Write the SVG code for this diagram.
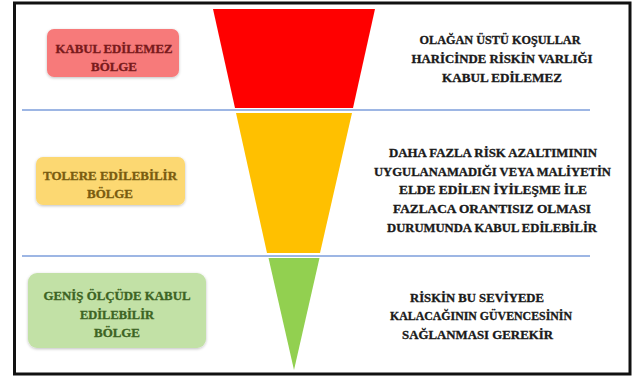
<svg xmlns="http://www.w3.org/2000/svg" width="633" height="376" viewBox="0 0 633 376">
<defs>
<style>
text{font-family:'Liberation Serif','Times New Roman',serif;font-weight:700;font-size:13.5px;text-anchor:middle;stroke-width:0.35px}
.r{fill:#7a1a1c;stroke:#7a1a1c}.y{fill:#7a5c10;stroke:#7a5c10}.g{fill:#3d6424;stroke:#3d6424}.k{fill:#1a1a1a;stroke:#1a1a1a}
.sep{stroke:#9db6e4;stroke-width:2}
</style>
<filter id="sh" x="-10%" y="-20%" width="120%" height="140%"><feGaussianBlur in="SourceAlpha" stdDeviation="1.5"/><feOffset dy="1"/><feComponentTransfer><feFuncA type="linear" slope="0.25"/></feComponentTransfer><feMerge><feMergeNode/><feMergeNode in="SourceGraphic"/></feMerge></filter>
</defs>
<rect x="0" y="0" width="633" height="376" fill="#fff"/>
<rect x="14.5" y="3" width="615.5" height="371" fill="none" stroke="#111" stroke-width="3"/>
<g id="connectors">
<line class="sep" x1="22" y1="110" x2="590" y2="110"/>
<line class="sep" x1="22" y1="256" x2="590" y2="256"/>
</g>
<g id="funnel">
<polygon points="213,9 375,9 353,108 235,108" fill="#ff0000"/>
<polygon points="236,113 352,113 320,253 267,253" fill="#ffc000"/>
<polygon points="268.5,258 319.5,258 294,370" fill="#92d050"/>
</g>
<g id="zone-red">
<rect x="47" y="29" width="132" height="48" rx="7" fill="#f77a7a" filter="url(#sh)"/>
<text class="r" x="114" y="53" textLength="117" lengthAdjust="spacingAndGlyphs">KABUL EDİLEMEZ</text>
<text class="r" x="114" y="71" textLength="46" lengthAdjust="spacingAndGlyphs">BÖLGE</text>
</g>
<g id="zone-yellow">
<rect x="36" y="157" width="149" height="48" rx="7" fill="#fcd872" filter="url(#sh)"/>
<text class="y" x="110" y="180" textLength="134" lengthAdjust="spacingAndGlyphs">TOLERE EDİLEBİLİR</text>
<text class="y" x="110" y="198" textLength="46" lengthAdjust="spacingAndGlyphs">BÖLGE</text>
</g>
<g id="zone-green">
<rect x="28" y="273" width="178" height="75" rx="9" fill="#c2e1a6" filter="url(#sh)"/>
<text class="g" x="117" y="300" textLength="147" lengthAdjust="spacingAndGlyphs">GENİŞ ÖLÇÜDE KABUL</text>
<text class="g" x="117" y="319" textLength="74" lengthAdjust="spacingAndGlyphs">EDİLEBİLİR</text>
<text class="g" x="117" y="337" textLength="46" lengthAdjust="spacingAndGlyphs">BÖLGE</text>
</g>
<g id="desc-red">
<text class="k" x="500" y="44" textLength="161" lengthAdjust="spacingAndGlyphs">OLAĞAN ÜSTÜ KOŞULLAR</text>
<text class="k" x="502" y="63" textLength="181" lengthAdjust="spacingAndGlyphs">HARİCİNDE RİSKİN VARLIĞI</text>
<text class="k" x="502" y="82" textLength="120" lengthAdjust="spacingAndGlyphs">KABUL EDİLEMEZ</text>
</g>
<g id="desc-yellow">
<text class="k" x="493" y="157" textLength="208" lengthAdjust="spacingAndGlyphs">DAHA FAZLA RİSK AZALTIMININ</text>
<text class="k" x="492.5" y="176" textLength="237" lengthAdjust="spacingAndGlyphs">UYGULANAMADIĞI VEYA MALİYETİN</text>
<text class="k" x="493" y="194" textLength="188" lengthAdjust="spacingAndGlyphs">ELDE EDİLEN İYİLEŞME İLE</text>
<text class="k" x="492" y="213" textLength="198" lengthAdjust="spacingAndGlyphs">FAZLACA ORANTISIZ OLMASI</text>
<text class="k" x="492" y="232" textLength="210" lengthAdjust="spacingAndGlyphs">DURUMUNDA KABUL EDİLEBİLİR</text>
</g>
<g id="desc-green">
<text class="k" x="477" y="302" textLength="134" lengthAdjust="spacingAndGlyphs">RİSKİN BU SEVİYEDE</text>
<text class="k" x="481" y="320" textLength="182" lengthAdjust="spacingAndGlyphs">KALACAĞININ GÜVENCESİNİN</text>
<text class="k" x="477.5" y="339" textLength="151" lengthAdjust="spacingAndGlyphs">SAĞLANMASI GEREKİR</text>
</g>
</svg>
